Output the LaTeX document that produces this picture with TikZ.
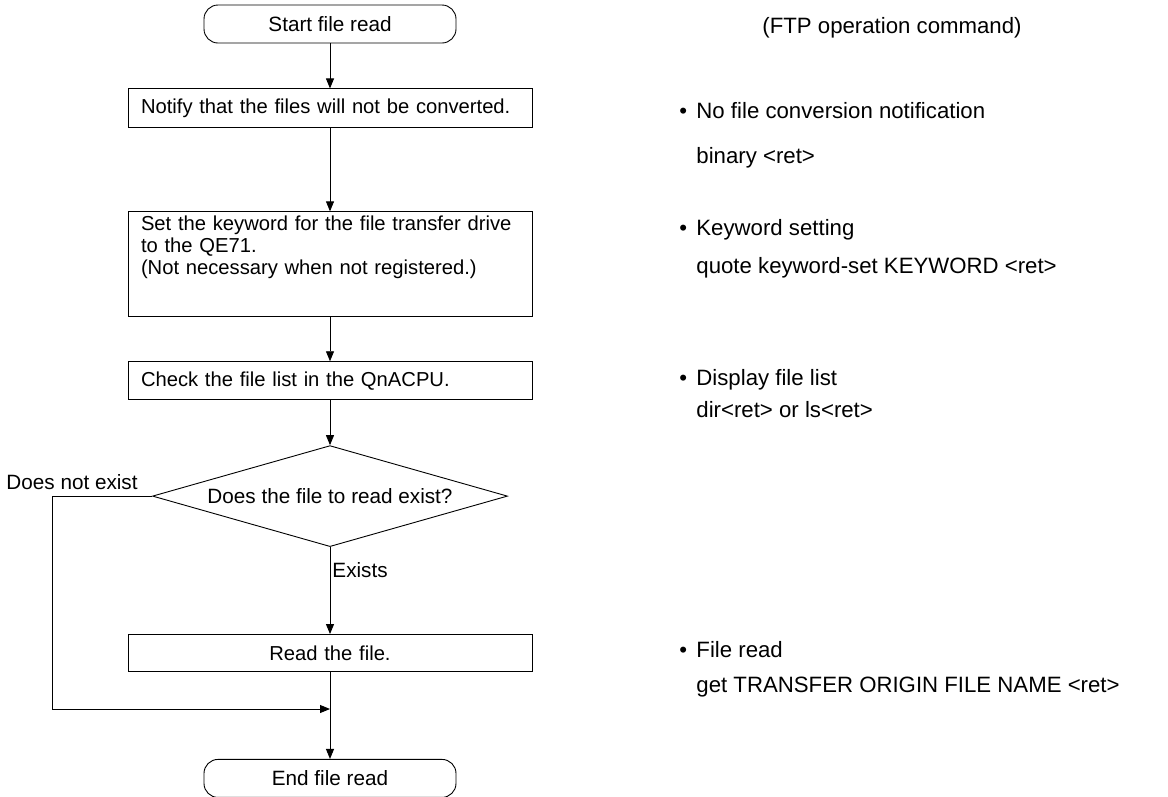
\documentclass[tikz,border=0pt]{standalone}
\usepackage{fontspec}
\setmainfont{Liberation Sans}
\usetikzlibrary{arrows.meta,positioning,shapes.geometric}

\begin{document}
\begin{tikzpicture}[x=1pt, y=-1pt, line width=0.9pt, font=\fontsize{20.7}{22}\selectfont,
  term/.style={rectangle, rounded corners=14pt, draw=black, minimum width=252pt, minimum height=38pt, inner sep=0pt},
  proc/.style={rectangle, draw=black, text width=378pt, inner xsep=13pt, inner ysep=4pt, align=left, font=\fontsize{20.2}{22}\selectfont},
  dec/.style={diamond, draw=black, aspect=3.5, minimum width=355pt, minimum height=101pt, inner sep=0pt},
  flow/.style={-{Triangle[length=10pt, width=8pt]}},
  note/.style={anchor=base west, inner sep=0pt, font=\fontsize{22.2}{24}\selectfont}]
\useasboundingbox (0,0) rectangle (1168,796);
\node[term] (start) at (330,24) {Start file read};
\node[proc, minimum height=39pt, below=45pt of start] (notify) {Notify that the files will not be converted.};
\node[proc, text height=15pt, text depth=82pt, below=83pt of notify] (keyword) {Set the keyword for the file transfer drive\\to the QE71.\\(Not necessary when not registered.)};
\node[proc, minimum height=38pt, below=44pt of keyword] (check) {Check the file list in the QnACPU.};
\node[dec, below=45pt of check] (exist) {Does the file to read exist?};
\node[proc, align=center, minimum height=37pt, below=87pt of exist] (read) {Read the file.};
\node[term, below=87pt of read] (finish) {End file read};
\coordinate (join) at (read.south |- 0,709);
\draw[flow] (start) -- (notify);
\draw[flow] (notify) -- (keyword);
\draw[flow] (keyword) -- (check);
\draw[flow] (check) -- (exist);
\draw[flow] (exist) -- node[right, pos=0.27, inner sep=2pt]{Exists} (read);
\draw[flow] (exist.west) -- node[above, pos=0.8, inner sep=6pt]{Does not exist} ++(-100,0) |- (join);
\draw[flow] (read) -- (finish);
% operation commands
\node[anchor=base, inner sep=0pt, font=\fontsize{22.2}{24}\selectfont] (head) at (892,33) {(FTP operation command)};
\node[note] (cmd1) at (679,118) {\makebox[17pt][l]{\textbullet}No file conversion notification};
\node[note] (arg1) at (696,163) {binary <ret>};
\node[note] (cmd2) at (679,235) {\makebox[17pt][l]{\textbullet}Keyword setting};
\node[note] (arg2) at (696,273) {quote keyword-set KEYWORD <ret>};
\node[note] (cmd3) at (679,385) {\makebox[17pt][l]{\textbullet}Display file list};
\node[note] (arg3) at (696,417) {dir<ret> or ls<ret>};
\node[note] (cmd4) at (679,657) {\makebox[17pt][l]{\textbullet}File read};
\node[note] (arg4) at (696,692) {get TRANSFER ORIGIN FILE NAME <ret>};
\end{tikzpicture}
\end{document}
